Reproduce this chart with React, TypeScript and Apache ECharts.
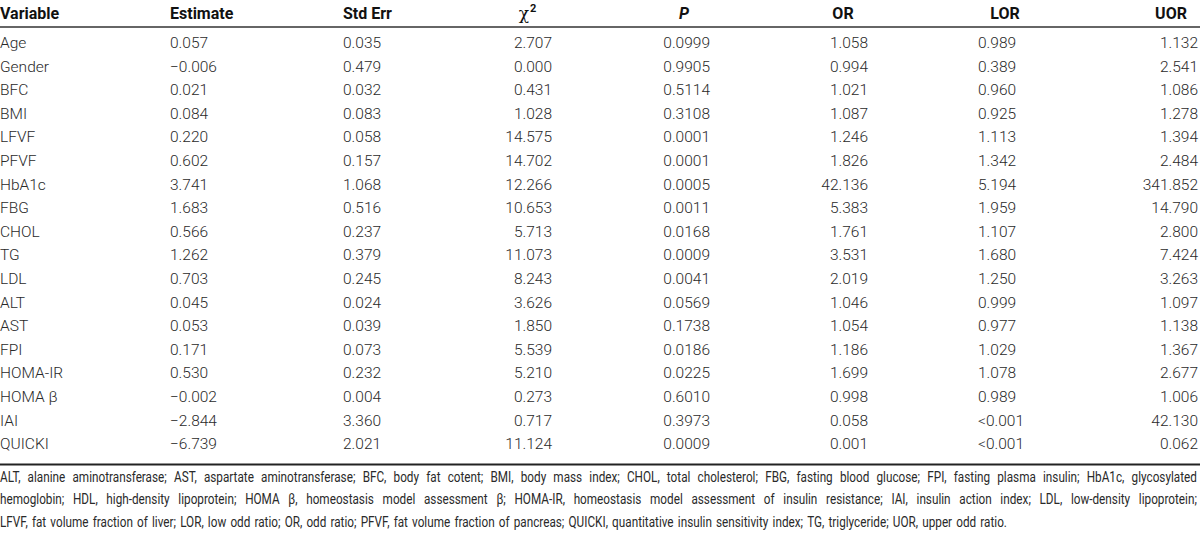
import React, { useEffect, useRef } from "react";
import * as echarts from "echarts";

const headers = ["Variable", "Estimate", "Std Err", "χ", "P", "OR", "LOR", "UOR"];
const variables = ["Age", "Gender", "BFC", "BMI", "LFVF", "PFVF", "HbA1c", "FBG", "CHOL", "TG", "LDL", "ALT", "AST", "FPI", "HOMA-IR", "HOMA β", "IAI", "QUICKI"];
const estimates = ["0.057", "−0.006", "0.021", "0.084", "0.220", "0.602", "3.741", "1.683", "0.566", "1.262", "0.703", "0.045", "0.053", "0.171", "0.530", "−0.002", "−2.844", "−6.739"];
const stdErrs = ["0.035", "0.479", "0.032", "0.083", "0.058", "0.157", "1.068", "0.516", "0.237", "0.379", "0.245", "0.024", "0.039", "0.073", "0.232", "0.004", "3.360", "2.021"];
const chiSquares = ["2.707", "0.000", "0.431", "1.028", "14.575", "14.702", "12.266", "10.653", "5.713", "11.073", "8.243", "3.626", "1.850", "5.539", "5.210", "0.273", "0.717", "11.124"];
const pValues = ["0.0999", "0.9905", "0.5114", "0.3108", "0.0001", "0.0001", "0.0005", "0.0011", "0.0168", "0.0009", "0.0041", "0.0569", "0.1738", "0.0186", "0.0225", "0.6010", "0.3973", "0.0009"];
const oddsRatios = ["1.058", "0.994", "1.021", "1.087", "1.246", "1.826", "42.136", "5.383", "1.761", "3.531", "2.019", "1.046", "1.054", "1.186", "1.699", "0.998", "0.058", "0.001"];
const lowerOR = ["0.989", "0.389", "0.960", "0.925", "1.113", "1.342", "5.194", "1.959", "1.107", "1.680", "1.250", "0.999", "0.977", "1.029", "1.078", "0.989", "<0.001", "<0.001"];
const upperOR = ["1.132", "2.541", "1.086", "1.278", "1.394", "2.484", "341.852", "14.790", "2.800", "7.424", "3.263", "1.097", "1.138", "1.367", "2.677", "1.006", "42.130", "0.062"];
const footnotes = [
  "ALT, alanine aminotransferase; AST, aspartate aminotransferase; BFC, body fat cotent; BMI, body mass index; CHOL, total cholesterol; FBG, fasting blood glucose; FPI, fasting plasma insulin; HbA1c, glycosylated",
  "hemoglobin; HDL, high-density lipoprotein; HOMA β, homeostasis model assessment β; HOMA-IR, homeostasis model assessment of insulin resistance; IAI, insulin action index; LDL, low-density lipoprotein;",
  "LFVF, fat volume fraction of liver; LOR, low odd ratio; OR, odd ratio; PFVF, fat volume fraction of pancreas; QUICKI, quantitative insulin sensitivity index; TG, triglyceride; UOR, upper odd ratio.",
];

const W = 1200;
const H = 537;
const FONT = "Roboto";
const BODY_SIZE = 15.5;
const HEAD_SIZE = 16;
const NOTE_SIZE = 14;
const NOTE_SCALE_X = 0.84;
const TEXT_COLOR = "#2a2a2a";
const columns = [
  { x: 0, align: "left", hx: 0, halign: "left" },
  { x: 170, align: "left", hx: 170, halign: "left" },
  { x: 343, align: "left", hx: 343, halign: "left" },
  { x: 552, align: "right", hx: 524, halign: "center" },
  { x: 710, align: "right", hx: 684, halign: "center" },
  { x: 868, align: "right", hx: 843, halign: "center" },
  { x: 978, align: "left", hx: 1005, halign: "center" },
  { x: 1198, align: "right", hx: 1171, halign: "center" },
];
const HEADER_Y = 13;
const ROW0_Y = 43;
const ROW_STEP = 23.6;
const NOTE_Y = [477, 499.5, 522];
const NOTE_WIDTH = [1197, 1197, 1007];

function measure(text: string, size: number): number {
  const c = document.createElement("canvas").getContext("2d");
  if (!c) return text.length * size * 0.45;
  c.font = `${size}px ${FONT}`;
  return c.measureText(text).width;
}

export default function App() {
  const ref = useRef<HTMLDivElement>(null);
  useEffect(() => {
    if (!ref.current) return;
    const chart = echarts.init(ref.current, undefined, { renderer: "svg" });
    const cols = [variables, estimates, stdErrs, chiSquares, pValues, oddsRatios, lowerOR, upperOR];
    const elements: any[] = [];

    headers.forEach((h, ci) => {
      const c = columns[ci];
      const isChi = ci === 3;
      elements.push({
        type: "text",
        x: c.hx,
        y: HEADER_Y,
        style: {
          text: h,
          align: c.halign,
          verticalAlign: "middle",
          fontFamily: isChi ? "DejaVu Serif" : FONT,
          fontSize: isChi ? 17 : HEAD_SIZE,
          fontWeight: isChi ? "normal" : "bold",
          fontStyle: ci === 4 ? "italic" : "normal",
          fill: "#111",
        },
      });
      if (isChi) {
        elements.push({
          type: "text",
          x: c.hx + 6,
          y: HEADER_Y - 5,
          style: { text: "2", align: "left", verticalAlign: "middle", fontFamily: FONT, fontSize: 11, fontWeight: "bold", fill: "#111" },
        });
      }
    });

    elements.push({ type: "line", shape: { x1: 0, y1: 27, x2: W, y2: 27 }, style: { stroke: "#333", lineWidth: 1.3 } });
    elements.push({ type: "line", shape: { x1: 0, y1: 464.5, x2: W, y2: 464.5 }, style: { stroke: "#222", lineWidth: 1.8 } });

    variables.forEach((_, ri) => {
      cols.forEach((arr, ci) => {
        const c = columns[ci];
        elements.push({
          type: "text",
          x: c.x,
          y: ROW0_Y + ri * ROW_STEP,
          style: { text: arr[ri], align: c.align, verticalAlign: "middle", fontFamily: FONT, fontSize: BODY_SIZE, fontWeight: 300, fill: TEXT_COLOR },
        });
      });
    });

    const spaceW = measure(" ", NOTE_SIZE) * NOTE_SCALE_X;
    footnotes.forEach((line, li) => {
      const words = line.split(" ");
      const widths = words.map((w) => measure(w, NOTE_SIZE) * NOTE_SCALE_X);
      const sum = widths.reduce((a, b) => a + b, 0);
      const gap = Math.max(spaceW, (NOTE_WIDTH[li] - sum) / (words.length - 1));
      let x = 0;
      words.forEach((w, wi) => {
        elements.push({
          type: "text",
          x,
          y: NOTE_Y[li],
          scaleX: NOTE_SCALE_X,
          style: { text: w, align: "left", verticalAlign: "middle", fontFamily: FONT, fontSize: NOTE_SIZE, fill: TEXT_COLOR },
        });
        x += widths[wi] + gap;
      });
    });

    chart.setOption({ animation: false, backgroundColor: "#fff", graphic: { elements } });
    return () => chart.dispose();
  }, []);
  return <div ref={ref} style={{ position: "fixed", left: 0, top: 0, width: W, height: H }} />;
}
